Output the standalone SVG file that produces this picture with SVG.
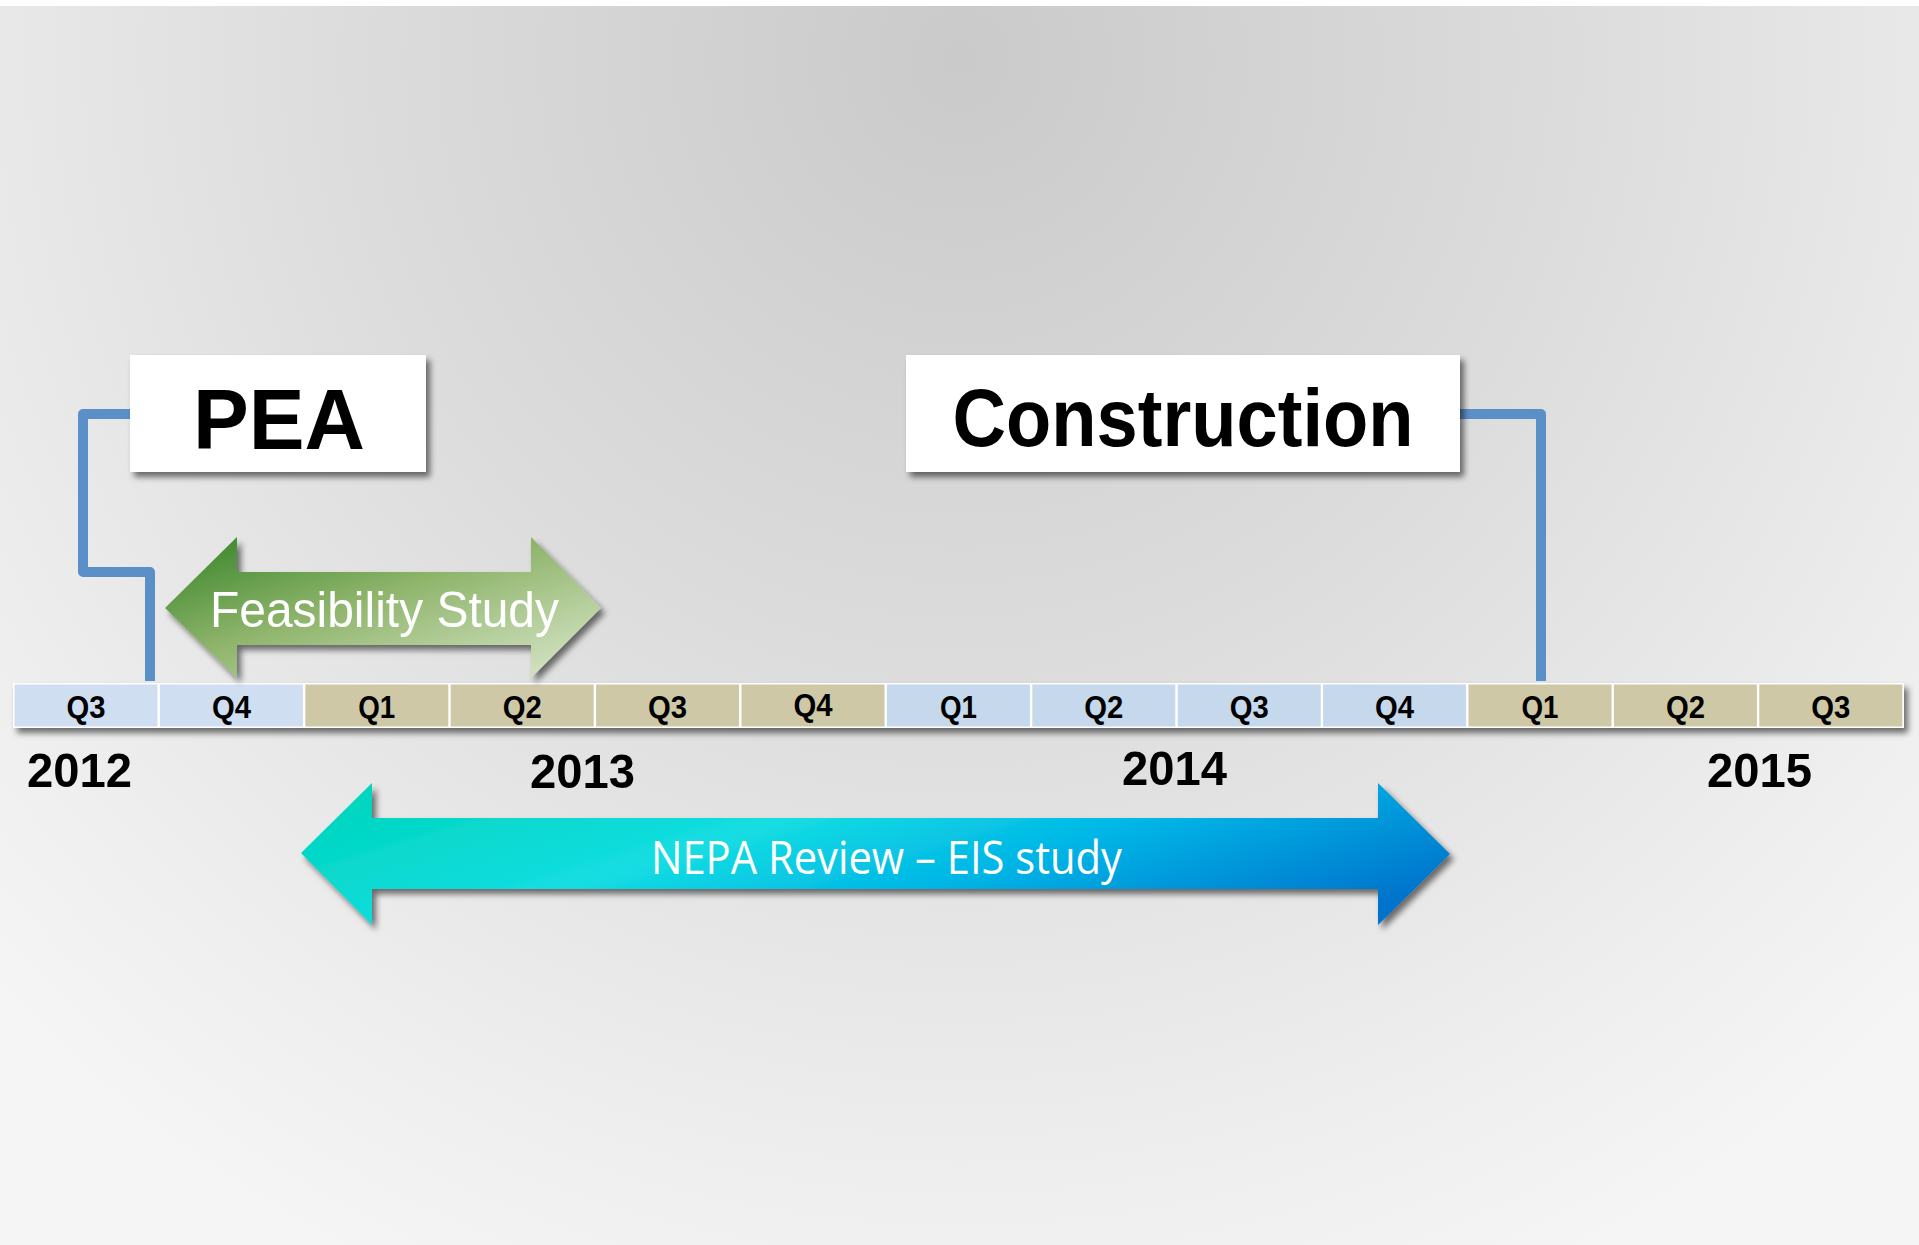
<svg xmlns="http://www.w3.org/2000/svg" width="1919" height="1245" viewBox="0 0 1919 1245">
<defs>
<radialGradient id="bg" cx="960" cy="60" r="1350" gradientUnits="userSpaceOnUse">
<stop offset="0" stop-color="#cacaca"/>
<stop offset="0.45" stop-color="#dcdcdc"/>
<stop offset="0.85" stop-color="#efefef"/>
<stop offset="1" stop-color="#f5f5f5"/>
</radialGradient>
<linearGradient id="gGreen" x1="0" y1="0" x2="1" y2="1">
<stop offset="0" stop-color="#338125"/>
<stop offset="0.45" stop-color="#8fb56c"/>
<stop offset="1" stop-color="#dde9cf"/>
</linearGradient>
<linearGradient id="gBlue" x1="0" y1="0.3" x2="1" y2="0.7">
<stop offset="0" stop-color="#00d6c0"/>
<stop offset="0.35" stop-color="#14dde2"/>
<stop offset="0.62" stop-color="#00b6e6"/>
<stop offset="1" stop-color="#0073cc"/>
</linearGradient>
<filter id="sh" x="-10%" y="-20%" width="130%" height="150%">
<feGaussianBlur in="SourceAlpha" stdDeviation="3"/>
<feOffset dx="4" dy="5" result="b"/>
<feComponentTransfer><feFuncA type="linear" slope="0.55"/></feComponentTransfer>
<feMerge><feMergeNode/><feMergeNode in="SourceGraphic"/></feMerge>
</filter>
<style>
.q{font-family:"Liberation Sans",Arial,sans-serif;font-weight:bold;font-size:31px;fill:#000;text-anchor:middle}
.yr{font-family:"Liberation Sans",Arial,sans-serif;font-weight:bold;font-size:49px;fill:#000}
.lbl{font-family:"Liberation Sans",Arial,sans-serif;font-weight:bold;fill:#000;text-anchor:middle}
.conn{fill:none;stroke:#5b8fc8;stroke-width:10;stroke-linejoin:round}
.sb{fill:#cfdff1}
.sb2{fill:#c5d8ec}
.st{fill:#cfc8a6}
</style>
</defs>
<rect x="0" y="0" width="1919" height="1245" fill="url(#bg)"/>
<rect x="0" y="0" width="1919" height="6" fill="#ffffff"/>

<g id="connectors">
<path class="conn" d="M132,414 H83 V572 H150 V681"/>
<path class="conn" d="M1458,414 H1541 V681"/>
</g>

<g id="timeline">
<g filter="url(#sh)">
<rect x="13" y="683" width="1891" height="45" fill="#ffffff"/>
</g>
<rect class="sb" x="14.5" y="684.5" width="143" height="42"/>
<rect class="sb" x="159.9" y="684.5" width="143" height="42"/>
<rect class="st" x="305.3" y="684.5" width="143" height="42"/>
<rect class="st" x="450.7" y="684.5" width="143" height="42"/>
<rect class="st" x="596.1" y="684.5" width="143" height="42"/>
<rect class="st" x="741.5" y="684.5" width="143" height="42"/>
<rect class="sb2" x="886.9" y="684.5" width="143" height="42"/>
<rect class="sb2" x="1032.3" y="684.5" width="143" height="42"/>
<rect class="sb2" x="1177.7" y="684.5" width="143" height="42"/>
<rect class="sb2" x="1323.1" y="684.5" width="143" height="42"/>
<rect class="st" x="1468.5" y="684.5" width="143" height="42"/>
<rect class="st" x="1613.9" y="684.5" width="143" height="42"/>
<rect class="st" x="1759.3" y="684.5" width="143" height="42"/>
<text class="q" x="86" y="718" textLength="39" lengthAdjust="spacingAndGlyphs">Q3</text>
<text class="q" x="231.4" y="718" textLength="39" lengthAdjust="spacingAndGlyphs">Q4</text>
<text class="q" x="376.8" y="718" textLength="37" lengthAdjust="spacingAndGlyphs">Q1</text>
<text class="q" x="522.2" y="718" textLength="39" lengthAdjust="spacingAndGlyphs">Q2</text>
<text class="q" x="667.6" y="718" textLength="39" lengthAdjust="spacingAndGlyphs">Q3</text>
<text class="q" x="813" y="716" textLength="39" lengthAdjust="spacingAndGlyphs">Q4</text>
<text class="q" x="958.4" y="718" textLength="37" lengthAdjust="spacingAndGlyphs">Q1</text>
<text class="q" x="1103.8" y="718" textLength="39" lengthAdjust="spacingAndGlyphs">Q2</text>
<text class="q" x="1249.2" y="718" textLength="39" lengthAdjust="spacingAndGlyphs">Q3</text>
<text class="q" x="1394.6" y="718" textLength="39" lengthAdjust="spacingAndGlyphs">Q4</text>
<text class="q" x="1540" y="718" textLength="37" lengthAdjust="spacingAndGlyphs">Q1</text>
<text class="q" x="1685.4" y="718" textLength="39" lengthAdjust="spacingAndGlyphs">Q2</text>
<text class="q" x="1830.8" y="718" textLength="39" lengthAdjust="spacingAndGlyphs">Q3</text>
<text class="yr" x="27" y="787" textLength="105" lengthAdjust="spacingAndGlyphs">2012</text>
<text class="yr" x="530" y="788" textLength="105" lengthAdjust="spacingAndGlyphs">2013</text>
<text class="yr" x="1122" y="785" textLength="105" lengthAdjust="spacingAndGlyphs">2014</text>
<text class="yr" x="1707" y="787" textLength="105" lengthAdjust="spacingAndGlyphs">2015</text>
</g>

<g id="pea">
<rect x="130" y="355" width="296" height="117" fill="#ffffff" filter="url(#sh)"/>
<text class="lbl" x="279" y="449" font-size="86" textLength="172" lengthAdjust="spacingAndGlyphs">PEA</text>
</g>

<g id="construction">
<rect x="906" y="355" width="554" height="117" fill="#ffffff" filter="url(#sh)"/>
<text class="lbl" x="1183" y="446" font-size="82" textLength="461" lengthAdjust="spacingAndGlyphs">Construction</text>
</g>

<g id="feasibility">
<path d="M165,608 L237,537 V572 H531 V537 L601,608 L531,678 V645 H237 V678 Z" fill="url(#gGreen)" filter="url(#sh)"/>
<text x="210" y="627" font-family="'Liberation Sans',Arial,sans-serif" font-size="50" fill="#ffffff" textLength="349" lengthAdjust="spacingAndGlyphs">Feasibility Study</text>
</g>

<g id="nepa">
<path d="M301,853 L372,783 V818 H1378 V783 L1450,854 L1378,925 V889 H372 V925 Z" fill="url(#gBlue)" filter="url(#sh)"/>
<text x="651" y="874" font-family="'Open Sans','Noto Sans',sans-serif" font-size="46" fill="#ffffff" textLength="471" lengthAdjust="spacingAndGlyphs">NEPA Review – EIS study</text>
</g>
</svg>
